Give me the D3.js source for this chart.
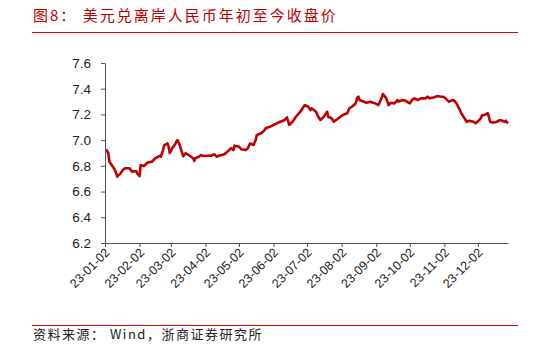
<!DOCTYPE html>
<html lang="zh">
<head>
<meta charset="utf-8">
<title>美元兑离岸人民币年初至今收盘价</title>
<script src="https://cdn.jsdelivr.net/npm/d3@7/dist/d3.min.js"></script>
<style>
  body { margin: 0; background: #fff; }
  .axis text { font-family: "Liberation Sans", Arial, sans-serif; fill: #222; }
  .axis path, .axis line { stroke: #555; }
</style>
</head>
<body>
<script>
const w = 548, h = 353;
const margin = {top: 63, right: 40, bottom: 110, left: 105};

// 交易日与收盘价
const dates = [
  "2023-01-03","2023-01-05","2023-01-06","2023-01-09","2023-01-11","2023-01-13","2023-01-16","2023-01-18",
  "2023-01-20","2023-01-24","2023-01-26","2023-01-30","2023-01-31","2023-02-02","2023-02-03","2023-02-06",
  "2023-02-09","2023-02-13","2023-02-16","2023-02-20","2023-02-21","2023-02-23","2023-02-24","2023-02-27",
  "2023-02-28","2023-03-01","2023-03-02","2023-03-03","2023-03-06","2023-03-07","2023-03-08","2023-03-09",
  "2023-03-10","2023-03-13","2023-03-14","2023-03-15","2023-03-16","2023-03-17","2023-03-20","2023-03-21",
  "2023-03-22","2023-03-23","2023-03-24","2023-03-27","2023-03-29","2023-03-31","2023-04-04","2023-04-07",
  "2023-04-10","2023-04-12","2023-04-14","2023-04-19","2023-04-21","2023-04-25","2023-04-27","2023-04-28",
  "2023-05-02","2023-05-04","2023-05-08","2023-05-10","2023-05-12","2023-05-15","2023-05-17","2023-05-18",
  "2023-05-22","2023-05-25","2023-05-26","2023-05-30","2023-06-02","2023-06-05","2023-06-08","2023-06-12",
  "2023-06-14","2023-06-16","2023-06-19","2023-06-22","2023-06-26","2023-06-28","2023-06-30","2023-07-03",
  "2023-07-05","2023-07-06","2023-07-10","2023-07-12","2023-07-14","2023-07-17","2023-07-20","2023-07-21",
  "2023-07-24","2023-07-26","2023-07-28","2023-08-01","2023-08-03","2023-08-07","2023-08-09","2023-08-11",
  "2023-08-14","2023-08-15","2023-08-16","2023-08-17","2023-08-18","2023-08-22","2023-08-24","2023-08-28",
  "2023-08-30","2023-09-01","2023-09-04","2023-09-06","2023-09-08","2023-09-11","2023-09-13","2023-09-15",
  "2023-09-18","2023-09-20","2023-09-21","2023-09-22","2023-09-26","2023-09-28","2023-10-02","2023-10-04",
  "2023-10-06","2023-10-09","2023-10-12","2023-10-16","2023-10-18","2023-10-20","2023-10-24","2023-10-27",
  "2023-10-30","2023-11-01","2023-11-03","2023-11-06","2023-11-08","2023-11-10","2023-11-13","2023-11-15",
  "2023-11-16","2023-11-17","2023-11-20","2023-11-22","2023-11-24","2023-11-28","2023-11-30","2023-12-04",
  "2023-12-06","2023-12-08","2023-12-11","2023-12-13","2023-12-15","2023-12-19","2023-12-22","2023-12-26",
  "2023-12-27","2023-12-29"
];
const closes = [
  6.929,6.898,6.832,6.793,6.768,6.716,6.742,6.768,
  6.781,6.781,6.755,6.760,6.740,6.721,6.807,6.799,
  6.825,6.832,6.859,6.877,6.871,6.923,6.960,6.975,
  6.950,6.900,6.910,6.935,6.970,6.990,7.000,6.980,
  6.960,6.875,6.885,6.898,6.895,6.890,6.871,6.865,
  6.859,6.838,6.860,6.871,6.884,6.877,6.879,6.879,
  6.890,6.871,6.879,6.890,6.905,6.937,6.923,6.957,
  6.949,6.929,6.923,6.937,6.975,6.962,7.001,7.040,
  7.053,7.079,7.092,7.105,7.118,7.131,7.143,7.157,
  7.178,7.118,7.143,7.182,7.221,7.248,7.273,7.260,
  7.234,7.248,7.221,7.182,7.157,7.182,7.221,7.182,
  7.170,7.143,7.157,7.182,7.196,7.209,7.248,7.260,
  7.280,7.300,7.330,7.338,7.312,7.299,7.291,7.299,
  7.291,7.286,7.273,7.312,7.359,7.325,7.273,7.291,
  7.286,7.300,7.312,7.300,7.312,7.307,7.286,7.312,
  7.325,7.312,7.325,7.325,7.338,7.325,7.333,7.343,
  7.338,7.338,7.325,7.299,7.307,7.312,7.286,7.248,
  7.235,7.210,7.170,7.143,7.151,7.143,7.131,7.162,
  7.196,7.196,7.209,7.143,7.136,7.143,7.157,7.143,
  7.151,7.131
];
const xTicks = ["2023-01-02","2023-02-02","2023-03-02","2023-04-02","2023-05-02","2023-06-02",
                "2023-07-02","2023-08-02","2023-09-02","2023-10-02","2023-11-02","2023-12-02"];
const yTicks = [6.2, 6.4, 6.6, 6.8, 7.0, 7.2, 7.4, 7.6];

const parse = d3.timeParse("%Y-%m-%d");
const series = dates.map((d, i) => ({date: parse(d), value: closes[i]}));

const svg = d3.select("body").append("svg")
              .attr("width", w)
              .attr("height", h);

// 标题与分隔线
svg.append("text")
   .attr("x", 33)
   .attr("y", 21)
   .attr("fill", "#c00000")
   .style("font-family", "'Noto Sans CJK SC', sans-serif")
   .style("font-size", "15px")
   .style("letter-spacing", "2px")
   .text("图8：  美元兑离岸人民币年初至今收盘价");

svg.append("line")
   .attr("x1", 32).attr("x2", 518)
   .attr("y1", 32.5).attr("y2", 32.5)
   .attr("stroke", "#e00000").attr("stroke-width", 1);

const xScale = d3.scaleTime()
                 .domain([parse("2023-01-02"), parse("2023-12-29")])
                 .range([margin.left, w - margin.right]);

const yScale = d3.scaleLinear()
                 .domain([6.2, 7.6])
                 .range([h - margin.bottom, margin.top]);

const yAxis = d3.axisLeft(yScale)
                .tickValues(yTicks)
                .tickFormat(d3.format(".1f"))
                .tickSize(4)
                .tickPadding(10)
                .tickSizeOuter(0);

const xAxis = d3.axisBottom(xScale)
                .tickValues(xTicks.map(parse))
                .tickFormat(d3.timeFormat("%y-%m-%d"))
                .tickSize(4)
                .tickSizeOuter(0);

svg.append("g")
   .attr("class", "axis")
   .attr("transform", "translate(" + margin.left + ",0)")
   .call(yAxis)
   .selectAll("text")
   .style("font-size", "13.5px");

const gx = svg.append("g")
   .attr("class", "axis")
   .attr("transform", "translate(0," + (h - margin.bottom) + ")")
   .call(xAxis);

gx.selectAll("text")
  .style("font-size", "12.5px")
  .attr("text-anchor", "end")
  .attr("dx", "-0.3em")
  .attr("dy", "0.3em")
  .attr("transform", "rotate(-45)");

const line = d3.line()
               .x(d => xScale(d.date))
               .y(d => yScale(d.value))
               .curve(d3.curveLinear);

svg.append("path")
   .datum(series)
   .attr("fill", "none")
   .attr("stroke", "#c00000")
   .attr("stroke-width", 2.6)
   .attr("stroke-linejoin", "round")
   .attr("d", line);

// 资料来源
svg.append("line")
   .attr("x1", 32).attr("x2", 518)
   .attr("y1", 325.5).attr("y2", 325.5)
   .attr("stroke", "#e00000").attr("stroke-width", 1);

svg.append("text")
   .attr("x", 33)
   .attr("y", 339)
   .attr("fill", "#222")
   .style("font-family", "'Noto Sans CJK SC', sans-serif")
   .style("font-size", "13px")
   .style("letter-spacing", "1.5px")
   .text("资料来源： Wind，浙商证券研究所");
</script>
</body>
</html>
